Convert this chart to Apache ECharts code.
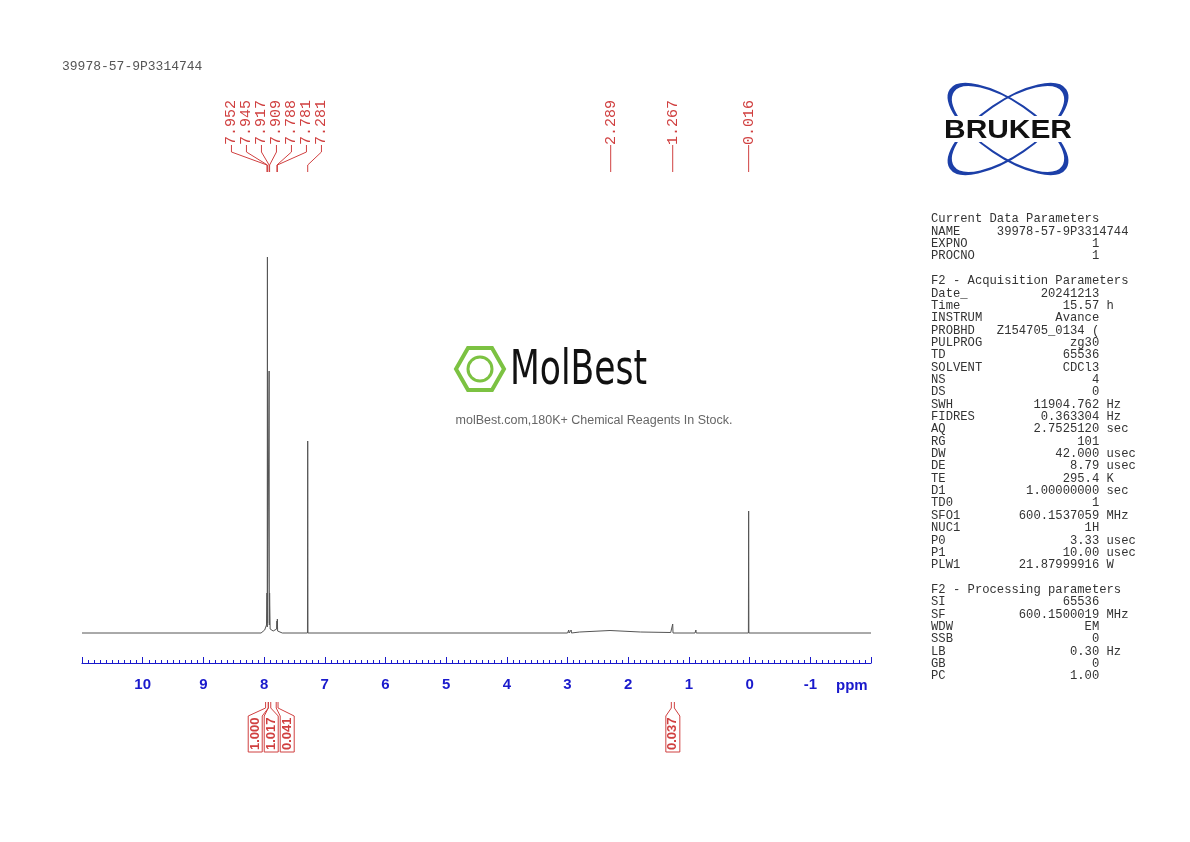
<!DOCTYPE html>
<html><head><meta charset="utf-8">
<script src="https://cdn.jsdelivr.net/npm/echarts@6/dist/echarts.min.js"></script>
<style>html,body{margin:0;background:#fff}#c{width:1190px;height:842px}</style>
</head><body><div id="c"></div>
<script>
// spectrum: [ppm, intensity]
const spectrumPpm = [11.0, 8.05, 7.99, 7.96, 7.952, 7.948, 7.945, 7.942, 7.925, 7.917, 7.913, 7.909, 7.90, 7.85, 7.792, 7.788, 7.785, 7.781, 7.777, 7.70, 7.285, 7.281, 7.277, 3.0, 2.985, 2.98, 2.975, 2.96, 2.945, 2.94, 2.935, 2.8, 2.3, 1.8, 1.30, 1.272, 1.267, 1.262, 1.24, 0.90, 0.885, 0.88, 0.02, 0.016, 0.012, -2.0];
const spectrumInt = [0, 0, 3, 8, 40, 6, 376, 10, 8, 262, 8, 40, 4, 2, 4, 12, 4, 14, 2, 0, 0, 192, 0, 0, 0, 3, 0, 0, 0, 3, 0, 1, 2.5, 1, 0.5, 0, 9, 0, 0.5, 0, 3, 0, 0, 122, 0, 0];
const peakLabels = ["7.952", "7.945", "7.917", "7.909", "7.788", "7.781", "7.281", "2.289", "1.267", "0.016"];
const peakGroups = [[0, 7], [7, 8], [8, 9], [9, 10]];
const integralRanges = [[7.975, 7.93], [7.93, 7.89], [7.80, 7.77], [1.29, 1.24]];
const integralValues = ["1.000", "1.017", "0.041", "0.037"];
const integralGroups = [[0, 3], [3, 4]];
const xTicks = [10, 9, 8, 7, 6, 5, 4, 3, 2, 1, 0, -1];
const title = "39978-57-9P3314744";
const paramRows = [
["Current Data Parameters"],
["NAME", "39978-57-9P3314744", "", 27],
["EXPNO", "1"], ["PROCNO", "1"], [""],
["F2 - Acquisition Parameters"],
["Date_", "20241213"], ["Time", "15.57", "h"], ["INSTRUM", "Avance"], ["PROBHD", "Z154705_0134 ("],
["PULPROG", "zg30"], ["TD", "65536"], ["SOLVENT", "CDCl3"], ["NS", "4"], ["DS", "0"],
["SWH", "11904.762", "Hz"], ["FIDRES", "0.363304", "Hz"], ["AQ", "2.7525120", "sec"], ["RG", "101"],
["DW", "42.000", "usec"], ["DE", "8.79", "usec"], ["TE", "295.4", "K"], ["D1", "1.00000000", "sec"],
["TD0", "1"], ["SFO1", "600.1537059", "MHz"], ["NUC1", "1H"], ["P0", "3.33", "usec"], ["P1", "10.00", "usec"],
["PLW1", "21.87999916", "W"], [""],
["F2 - Processing parameters"],
["SI", "65536"], ["SF", "600.1500019", "MHz"], ["WDW", "EM"], ["SSB", "0"], ["LB", "0.30", "Hz"], ["GB", "0"], ["PC", "1.00"]];

const RED = '#d04040';
const data = spectrumPpm.map((p, i) => [p, spectrumInt[i]]);
const peakPpm = peakLabels.map(Number);
const paramText = paramRows.map(r => r.length === 1 ? r[0] :
  r[0] + r[1].padStart((r[3] || 23) - r[0].length) + (r[2] ? ' ' + r[2] : '')).join('\n');

const chart = echarts.init(document.getElementById('c'));
function spread(xs, gap) {
  const m = xs.reduce((a, b) => a + b, 0) / xs.length;
  return xs.map((_, i) => m + (i - (xs.length - 1) / 2) * gap);
}
chart.setOption({
  animation: false,
  grid: {left: 82, right: 319, top: 257, bottom: 179},
  xAxis: {type: 'value', inverse: true, min: -2.0, max: 11.0, interval: 1,
    axisLine: {onZero: false, lineStyle: {color: '#1a1acc', width: 1.2}},
    axisTick: {inside: true, length: 6, lineStyle: {color: '#1a1acc'}},
    minorTick: {show: true, splitNumber: 10, length: 3, lineStyle: {color: '#1a1acc'}},
    splitLine: {show: false},
    axisLabel: {color: '#1a1acc', fontSize: 15, fontWeight: 'bold', fontFamily: 'Liberation Sans', margin: 14,
      formatter: v => xTicks.includes(v) ? String(v) : ''}},
  yAxis: {type: 'value', min: -30, max: 376, show: false},
  graphic: [
    {type: 'text', left: 62, top: 60, style: {text: title, font: '13px "Liberation Mono"', fill: '#555'}},
    {type: 'text', left: 836, top: 678, style: {text: 'ppm', font: 'bold 15px "Liberation Sans"', fill: '#1a1acc'}},
    {type: 'text', left: 931, top: 213, style: {text: paramText, font: '12.2px "Liberation Mono"', lineHeight: 12.35, fill: '#333'}},
    // Bruker logo
    {type: 'group', x: 1008, y: 129, children: [
      {type: 'group', rotation: 0.6, children: [{type: 'circle', scaleY: 0.4, shape: {r: 68}, style: {fill: 'none', stroke: '#1c3fa8', lineWidth: 5}}]},
      {type: 'group', rotation: -0.6, children: [{type: 'circle', scaleY: 0.4, shape: {r: 68}, style: {fill: 'none', stroke: '#1c3fa8', lineWidth: 5}}]},
      {type: 'rect', shape: {x: -84, y: -13, width: 168, height: 26}, style: {fill: '#fff'}},
      {type: 'text', x: 0, y: 2, scaleX: 1.15, style: {text: 'BRUKER', font: 'bold 26px "Liberation Sans"', fill: '#111', align: 'center', verticalAlign: 'middle'}}
    ]},
    // MolBest watermark
    {type: 'group', x: 480, y: 369, children: [
      {type: 'polygon', shape: {points: [[-24,0],[-12,-21],[12,-21],[24,0],[12,21],[-12,21]]}, style: {fill: 'none', stroke: '#7cc242', lineWidth: 4}},
      {type: 'circle', shape: {r: 12}, style: {fill: 'none', stroke: '#7cc242', lineWidth: 3}}
    ]},
    {type: 'text', x: 510, y: 372, scaleX: 0.8, style: {text: 'MolBest', font: '48px "DejaVu Sans Condensed"', fill: '#111', verticalAlign: 'middle'}},
    {type: 'text', x: 594, y: 421, style: {text: 'molBest.com,180K+ Chemical Reagents In Stock.', font: '12.5px "Liberation Sans"', fill: '#666', align: 'center', verticalAlign: 'middle'}}
  ],
  series: [
    {type: 'line', data: data, showSymbol: false, sampling: null, lineStyle: {color: '#555', width: 1}, silent: true},
    {type: 'custom', silent: true, data: peakGroups, renderItem: (params, api) => {
      const [a, b] = [api.value(0), api.value(1)];
      const idx = []; for (let i = a; i < b; i++) idx.push(i);
      const px = idx.map(i => api.coord([peakPpm[i], 0])[0]);
      const lx = spread(px, 15);
      const ch = [];
      idx.forEach((i, k) => {
        ch.push({type: 'text', x: lx[k], y: 145, rotation: Math.PI / 2,
          style: {text: peakLabels[i], font: '15px "Liberation Mono"', fill: RED, align: 'left', verticalAlign: 'middle'}});
        ch.push({type: 'polyline', shape: {points: [[lx[k], 145], [lx[k], 152], [px[k], 165], [px[k], 172]]}, style: {stroke: RED, lineWidth: 1, fill: 'none'}});
      });
      return {type: 'group', children: ch};
    }},
    {type: 'custom', silent: true, data: integralGroups, renderItem: (params, api) => {
      const [a, b] = [api.value(0), api.value(1)];
      const idx = []; for (let i = a; i < b; i++) idx.push(i);
      const cx = idx.map(i => (api.coord([integralRanges[i][0], 0])[0] + api.coord([integralRanges[i][1], 0])[0]) / 2);
      const lx = spread(cx, 16);
      const ch = [];
      idx.forEach((i, k) => {
        const x1 = api.coord([integralRanges[i][0], 0])[0], x2 = api.coord([integralRanges[i][1], 0])[0];
        ch.push({type: 'polyline', shape: {points: [[x1, 702], [x1, 708], [lx[k] - 7, 716], [lx[k] - 7, 752]]}, style: {stroke: RED, lineWidth: 1, fill: 'none'}});
        ch.push({type: 'polyline', shape: {points: [[x2, 702], [x2, 708], [lx[k] + 7, 716], [lx[k] + 7, 752]]}, style: {stroke: RED, lineWidth: 1, fill: 'none'}});
        ch.push({type: 'line', shape: {x1: lx[k] - 7, y1: 752, x2: lx[k] + 7, y2: 752}, style: {stroke: RED, lineWidth: 1}});
        ch.push({type: 'text', x: lx[k], y: 750, rotation: Math.PI / 2,
          style: {text: integralValues[i], font: 'bold 13px "Liberation Sans"', fill: RED, align: 'left', verticalAlign: 'middle'}});
      });
      return {type: 'group', children: ch};
    }}
  ]
});
</script></body></html>
